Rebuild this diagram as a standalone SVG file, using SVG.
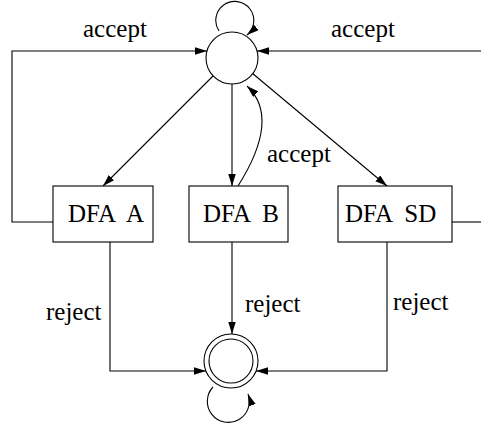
<svg xmlns="http://www.w3.org/2000/svg" width="481" height="427" viewBox="0 0 481 427">
  <defs>
    <marker id="arrow" markerUnits="userSpaceOnUse" markerWidth="13" markerHeight="8" refX="12" refY="3.75" orient="auto">
      <path d="M0,0 L12,3.75 L0,7.5 z" fill="#000"/>
    </marker>
    <style>
      .edge { fill: none; stroke: #000; stroke-width: 1.1; }
      .arr { marker-end: url(#arrow); }
      .state { fill: #fff; stroke: #000; stroke-width: 1.1; }
      .box { fill: #fff; stroke: #000; stroke-width: 1.1; }
      text { font-family: "Liberation Serif", "Times New Roman", serif; font-size: 25px; fill: #000; white-space: pre; }
    </style>
  </defs>

  <!-- connectors -->
  <g id="connectors">
    <!-- self loop on start state -->
    <path class="edge arr" d="M219,31 A19,19 0 1 1 247,35"/>
    <!-- accept feedback from DFA A (left) -->
    <polyline class="edge arr" points="53,222 12,222 12,51 207,51"/>
    <!-- accept feedback from DFA SD (right) -->
    <polyline class="edge" points="452,222 481,222"/>
    <line class="edge arr" x1="481" y1="51" x2="257" y2="51"/>
    <!-- start state to each DFA -->
    <line class="edge arr" x1="214" y1="75" x2="103" y2="186"/>
    <line class="edge arr" x1="232" y1="84" x2="232" y2="186"/>
    <line class="edge arr" x1="252" y1="73" x2="387" y2="186"/>
    <!-- accept from DFA B -->
    <path class="edge arr" d="M238,186 Q281,118 247,86"/>
    <!-- reject paths to final state -->
    <polyline class="edge arr" points="110,242 110,371 206,371"/>
    <line class="edge arr" x1="232" y1="242" x2="232" y2="334"/>
    <polyline class="edge arr" points="387,242 387,371 256,371"/>
    <!-- self loop on final state -->
    <path class="edge arr" d="M213,387 A21,21 0 1 0 248,394"/>
  </g>

  <g id="start">
    <circle class="state" cx="232" cy="58" r="26"/>
  </g>

  <g id="final">
    <circle class="state" cx="231" cy="361" r="27"/>
    <circle class="state" cx="231" cy="361" r="22"/>
  </g>

  <g id="dfa-a">
    <rect class="box" x="53" y="186" width="100" height="56"/>
    <text x="68" y="222">DFA  A</text>
  </g>

  <g id="dfa-b">
    <rect class="box" x="189" y="186" width="99" height="56"/>
    <text x="203" y="222">DFA  B</text>
  </g>

  <g id="dfa-sd">
    <rect class="box" x="338" y="186" width="114" height="56"/>
    <text x="345" y="222">DFA  SD</text>
  </g>

  <g id="labels">
    <text x="83" y="37">accept</text>
    <text x="331" y="37">accept</text>
    <text x="267" y="162">accept</text>
    <text x="46" y="320">reject</text>
    <text x="245" y="312">reject</text>
    <text x="393" y="310">reject</text>
  </g>
</svg>
